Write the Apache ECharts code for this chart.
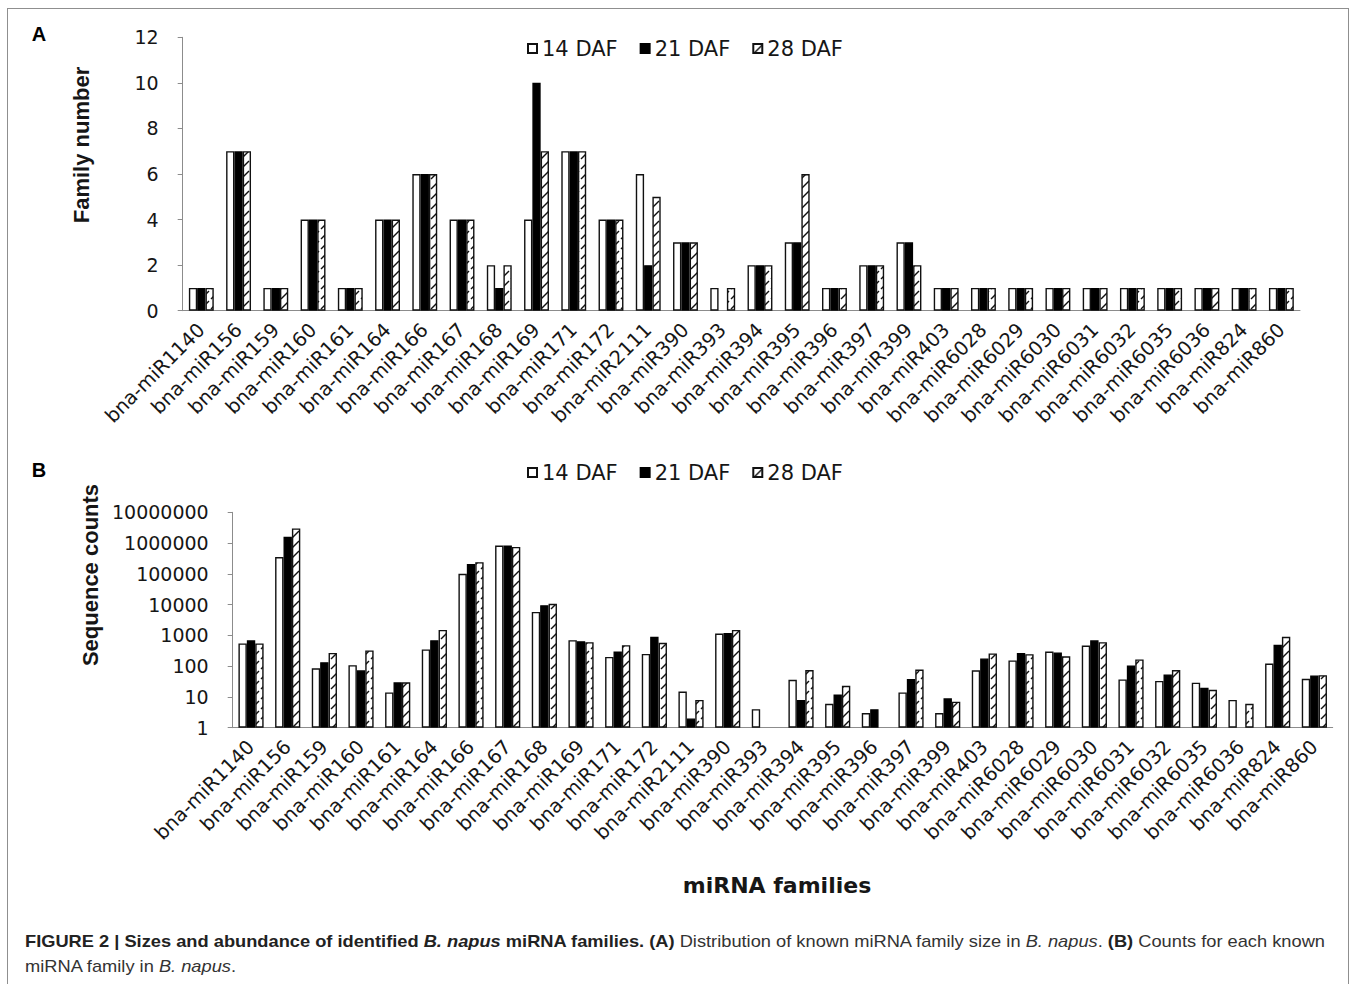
<!DOCTYPE html>
<html>
<head>
<meta charset="utf-8">
<script src="https://cdn.jsdelivr.net/npm/echarts@6/dist/echarts.min.js"></script>
<style>
  html, body { margin: 0; padding: 0; background: #fff; }
  #frame { position: absolute; left: 7px; top: 8px; width: 1342px; height: 990px;
           border: 1px solid #8f8f8f; border-bottom: none; box-sizing: border-box; }
  #chart { position: absolute; left: 0; top: 0; width: 1355px; height: 984px; }
  #caption { position: absolute; left: 25px; top: 929px; color: #333;
             font-family: "Liberation Sans Narrow", "Liberation Sans", Arial, sans-serif;
             font-size: 17px; line-height: 25px; white-space: nowrap; }
  #caption .ln { transform-origin: 0 50%; }
  #caption b { color: #222; }
</style>
</head>
<body>
<div id="frame"></div>
<div id="chart"></div>
<div id="caption">
  <div class="ln" id="cap1"><b>FIGURE 2 | Sizes and abundance of identified <i>B. napus</i> miRNA families. (A)</b> Distribution of known miRNA family size in <i>B. napus</i>. <b>(B)</b> Counts for each known</div>
  <div class="ln" id="cap2">miRNA family in <i>B. napus</i>.</div>
</div>
<script>
// miRNA families shown on both panels
const categories = [
  'bna-miR1140', 'bna-miR156', 'bna-miR159', 'bna-miR160', 'bna-miR161', 'bna-miR164',
  'bna-miR166', 'bna-miR167', 'bna-miR168', 'bna-miR169', 'bna-miR171', 'bna-miR172',
  'bna-miR2111', 'bna-miR390', 'bna-miR393', 'bna-miR394', 'bna-miR395', 'bna-miR396',
  'bna-miR397', 'bna-miR399', 'bna-miR403', 'bna-miR6028', 'bna-miR6029', 'bna-miR6030',
  'bna-miR6031', 'bna-miR6032', 'bna-miR6035', 'bna-miR6036', 'bna-miR824', 'bna-miR860'
];
const seriesNames = ['14 DAF', '21 DAF', '28 DAF'];

// (A) family size (number of members)
const famSize14 = [1, 7, 1, 4, 1, 4, 6, 4, 2, 4, 7, 4, 6, 3, 1, 2, 3, 1, 2, 3, 1, 1, 1, 1, 1, 1, 1, 1, 1, 1];
const famSize21 = [1, 7, 1, 4, 1, 4, 6, 4, 1, 10, 7, 4, 2, 3, 0, 2, 3, 1, 2, 3, 1, 1, 1, 1, 1, 1, 1, 1, 1, 1];
const famSize28 = [1, 7, 1, 4, 1, 4, 6, 4, 2, 7, 7, 4, 5, 3, 1, 2, 6, 1, 2, 2, 1, 1, 1, 1, 1, 1, 1, 1, 1, 1];

// (B) sequence counts ('-' = no reads)
const seqCount14 = [550, 350000, 85, 108, 14, 350, 100000, 830000, 5800, 700, 200, 250, 15, 1150, 4, 36, 6, 3, 14, 3, 73, 153, 300, 470, 37, 33, 29, 8, 122, 39];
const seqCount21 = [690, 1600000, 135, 73, 30, 700, 210000, 830000, 9600, 650, 300, 900, 2, 1200, '-', 8, 12, 4, 38, 9, 178, 270, 280, 690, 106, 54, 20, '-', 495, 50];
const seqCount28 = [550, 3000000, 270, 325, 30, 1500, 240000, 750000, 10600, 600, 480, 575, 8, 1500, '-', 75, 23, '-', 78, 7, 260, 245, 208, 600, 165, 75, 17, 6, 900, 51];

// y-axis settings
const famAxis = { min: 0, max: 12, interval: 2 };
const countAxis = { min: 1, max: 10000000 };

// diagonal hatch tile for the 28 DAF bars
function hatchTile() {
  const c = document.createElement('canvas');
  c.width = 10; c.height = 10;
  const g = c.getContext('2d');
  g.fillStyle = '#fff';
  g.fillRect(0, 0, 10, 10);
  g.strokeStyle = '#111';
  g.lineWidth = 1.4;
  g.beginPath();
  g.moveTo(1, 9); g.lineTo(9, 1);
  g.stroke();
  return c;
}

const AXIS_GREY = '#8c8c8c';
const TXT = '#161616';
const hatch = { image: hatchTile(), repeat: 'repeat', imageWidth: 10, imageHeight: 10 };
const barStyles = [
  { color: '#ffffff', borderColor: '#111', borderWidth: 1.4 },
  { color: '#000000', borderColor: '#000', borderWidth: 1.4 },
  { color: hatch, borderColor: '#111', borderWidth: 1.4 }
];

// empty families get no outline so nothing is drawn on the baseline
const noZeroOutline = arr => arr.map(v => v === 0 ? { value: 0, itemStyle: { borderWidth: 0 } } : v);

function xAxisFor(gridIndex) {
  return {
    type: 'category', gridIndex: gridIndex, data: categories,
    axisLine: { lineStyle: { color: AXIS_GREY, width: 1 } },
    axisTick: { length: 5, lineStyle: { color: AXIS_GREY } },
    axisLabel: { rotate: 45, interval: 0, margin: 16, fontSize: 19.5,
                 fontFamily: 'DejaVu Sans', color: TXT }
  };
}
function yAxisBase(gridIndex) {
  return {
    gridIndex: gridIndex,
    axisLine: { show: true, lineStyle: { color: AXIS_GREY, width: 1 } },
    axisTick: { show: true, length: 5, lineStyle: { color: AXIS_GREY } },
    splitLine: { show: false },
    axisLabel: { margin: 24, fontSize: 19, fontFamily: 'DejaVu Sans', color: TXT }
  };
}

const yA = Object.assign(yAxisBase(0), { type: 'value' }, famAxis);
const yB = Object.assign(yAxisBase(1), { type: 'log', logBase: 10 }, countAxis);
yB.axisLabel.formatter = v => String(Math.round(v));

const seriesA = [famSize14, famSize21, famSize28].map((d, i) => ({
  type: 'bar', name: seriesNames[i], xAxisIndex: 0, yAxisIndex: 0, data: noZeroOutline(d),
  barWidth: 8.3, barGap: '0%', itemStyle: barStyles[i], emphasis: { disabled: true }
}));
const seriesB = [seqCount14, seqCount21, seqCount28].map((d, i) => ({
  type: 'bar', name: seriesNames[i], xAxisIndex: 1, yAxisIndex: 1, data: d,
  barWidth: 8.4, barGap: '0%', itemStyle: barStyles[i], emphasis: { disabled: true }
}));

function legendAt(top) {
  return {
    left: 522, top: top, icon: 'rect', itemWidth: 9, itemHeight: 9, itemGap: 22,
    selectedMode: false, data: seriesNames,
    textStyle: { fontSize: 21, fontFamily: 'DejaVu Sans', color: TXT }
  };
}

function txt(x, y, text, opts) {
  return Object.assign({
    type: 'text', x: x, y: y,
    style: Object.assign({ text: text, fill: TXT, align: 'center', verticalAlign: 'middle',
                           fontFamily: 'Liberation Sans', fontWeight: 'bold', fontSize: 22 },
                         opts && opts.style)
  }, opts && opts.el);
}

const option = {
  animation: false,
  backgroundColor: 'transparent',
  grid: [
    { left: 182.7, top: 37.3, width: 1117.3, height: 273.4 },
    { left: 232.7, top: 512.3, width: 1100, height: 215.4 }
  ],
  legend: [legendAt(33), legendAt(457)],
  xAxis: [xAxisFor(0), xAxisFor(1)],
  yAxis: [yA, yB],
  series: seriesA.concat(seriesB),
  graphic: [
    txt(39, 34, 'A', { style: { fontSize: 20, fill: '#000' } }),
    txt(39, 470, 'B', { style: { fontSize: 20, fill: '#000' } }),
    txt(81, 145, 'Family number', { el: { rotation: Math.PI / 2 } }),
    txt(90, 575, 'Sequence counts', { el: { rotation: Math.PI / 2 } }),
    txt(777, 885, 'miRNA families', { style: { fontFamily: 'DejaVu Sans' } })
  ]
};

const chart = echarts.init(document.getElementById('chart'), null, { renderer: 'svg' });
chart.setOption(option);

// fit the caption lines to the frame width
(function fitCaption() {
  const l1 = document.getElementById('cap1');
  const l2 = document.getElementById('cap2');
  const range = document.createRange();
  range.selectNodeContents(l1);
  const w = range.getBoundingClientRect().width;
  const k = 1300 / w;
  l1.style.transform = 'scaleX(' + k + ')';
  l2.style.transform = 'scaleX(' + k + ')';
})();
</script>
</body>
</html>
